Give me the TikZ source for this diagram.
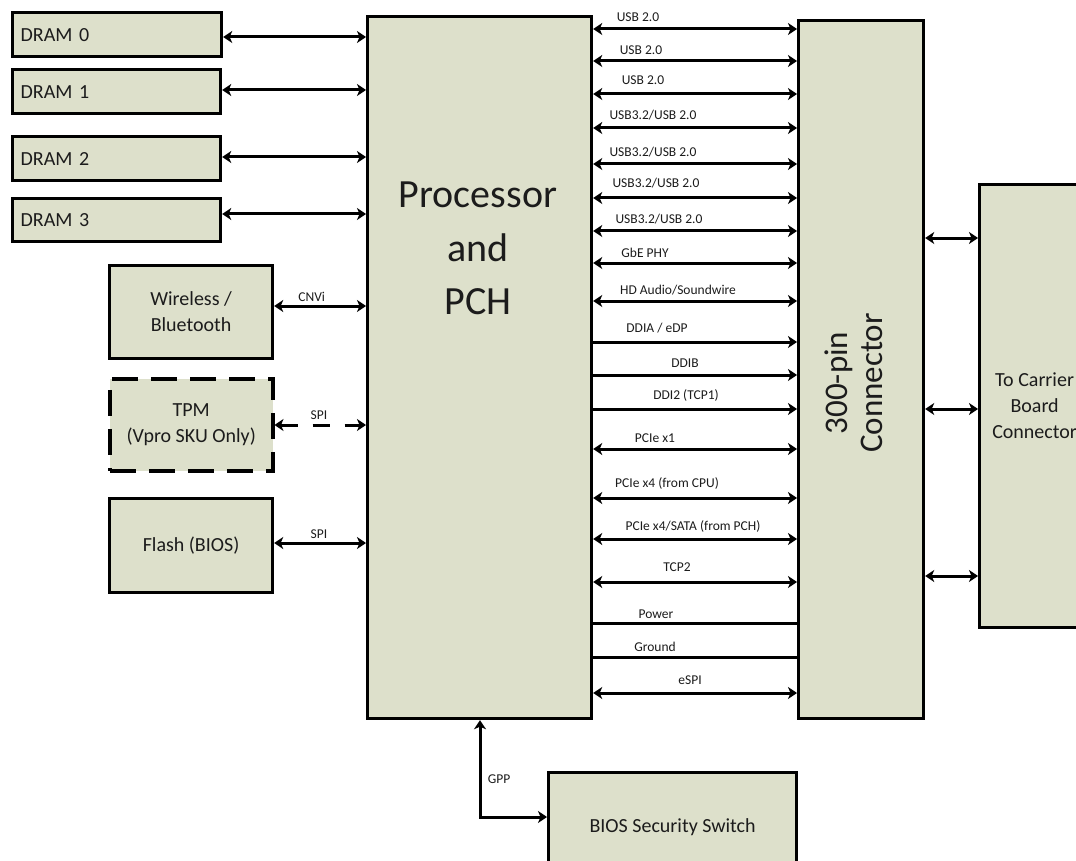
\documentclass[tikz,border=0pt]{standalone}
\usepackage{fontspec}
\setmainfont{Carlito}
\usetikzlibrary{arrows.meta}
\definecolor{boxfill}{RGB}{221,224,203}
\definecolor{txt}{RGB}{28,28,28}
\tikzset{
  box/.style={draw, line width=3.2pt, fill=boxfill, text=txt, font=\fontsize{20}{26}\selectfont, inner sep=0pt, align=center, anchor=north west},
  dashbox/.style={box, dash pattern=on 26pt off 13pt, line width=3.5pt},
  lbl/.style={font=\fontsize{13.5}{16}\selectfont, text=txt, anchor=base, inner sep=0pt},
  conn/.style={line width=3pt},
  >={Stealth[length=9pt,width=12pt,inset=2.5pt]},
}
\begin{document}
\begin{tikzpicture}[x=1pt,y=-1pt]
\clip (0,0) rectangle (1076,861);
\useasboundingbox (0,0) rectangle (1076,861);
\fill[white] (0,0) rectangle (1076,861);

% boxes
\node[box, align=left, text width=193pt, inner xsep=8pt, minimum height=44pt] (d0) at (11,11) {DRAM 0};
\node[box, align=left, text width=192pt, inner xsep=8pt, minimum height=44pt] (d1) at (11,68) {DRAM 1};
\node[box, align=left, text width=192pt, inner xsep=8pt, minimum height=44pt] (d2) at (11,135) {DRAM 2};
\node[box, align=left, text width=192pt, inner xsep=8pt, minimum height=43pt] (d3) at (11,197) {DRAM 3};
\node[box, minimum width=224pt, minimum height=702pt] (proc) at (366,15) {};
\node[font=\fontsize{40}{53.5}\selectfont, text=txt, align=center, inner sep=0pt] (proctext) at (478,248.5) {Processor\\and\\PCH};
\node[box, minimum width=163pt, minimum height=93pt] (wire) at (108,264) {Wireless /\\Bluetooth};
\node[dashbox, minimum width=163pt, minimum height=92pt] (tpm) at (108,377) {TPM\\(Vpro SKU Only)};
\node[box, minimum width=163pt, minimum height=94pt] (flash) at (108,497) {Flash (BIOS)};
\node[box, minimum width=125pt, minimum height=698pt] (conn) at (797,19) {};
\node[font=\fontsize{33}{35}\selectfont, text=txt, align=center, inner sep=0pt, rotate=90] (conntext) at (854,383) {300-pin\\Connector};
\node[box, minimum width=110pt, minimum height=443pt] (car) at (978,183) {To Carrier\\Board\\Connector};
\node[box, minimum width=248pt, minimum height=110pt] (bios) at (547,771) {BIOS Security Switch};

% DRAM links
\draw[conn,<->] (d0.east |- 0,37) -- (proc.west |- 0,37);
\draw[conn,<->] (d1.east |- 0,90) -- (proc.west |- 0,90);
\draw[conn,<->] (d2.east |- 0,157) -- (proc.west |- 0,157);
\draw[conn,<->] (d3.east |- 0,214) -- (proc.west |- 0,214);

% left peripherals
\draw[conn,<->] (wire.east |- 0,306) -- (proc.west |- 0,306);
\node[lbl] (lcnvi) at (311.7,301) {CNVi};
\draw[conn,<->,dash pattern=on 17pt off 15pt] (tpm.east |- 0,425) -- (proc.west |- 0,425);
\node[lbl] (lspi1) at (319,419) {SPI};
\draw[conn,<->] (flash.east |- 0,543) -- (proc.west |- 0,543);
\node[lbl] (lspi2) at (319,538) {SPI};

% buses to connector
\draw[conn,<->] (proc.east |- 0,29) -- (conn.west |- 0,29);
\node[lbl] at (638,22) {USB 2.0};
\draw[conn,<->] (proc.east |- 0,61) -- (conn.west |- 0,61);
\node[lbl] at (641,55) {USB 2.0};
\draw[conn,<->] (proc.east |- 0,94) -- (conn.west |- 0,94);
\node[lbl] at (643,85) {USB 2.0};
\draw[conn,<->] (proc.east |- 0,128) -- (conn.west |- 0,128);
\node[lbl] at (653,120) {USB3.2/USB 2.0};
\draw[conn,<->] (proc.east |- 0,164) -- (conn.west |- 0,164);
\node[lbl] at (653,156.5) {USB3.2/USB 2.0};
\draw[conn,<->] (proc.east |- 0,198) -- (conn.west |- 0,198);
\node[lbl] at (656,188) {USB3.2/USB 2.0};
\draw[conn,<->] (proc.east |- 0,231) -- (conn.west |- 0,231);
\node[lbl] at (659,223) {USB3.2/USB 2.0};
\draw[conn,<->] (proc.east |- 0,263) -- (conn.west |- 0,263);
\node[lbl] at (645,257) {GbE PHY};
\draw[conn,<->] (proc.east |- 0,301) -- (conn.west |- 0,301);
\node[lbl] at (678,294) {HD Audio/Soundwire};
\draw[conn,->] (proc.east |- 0,342) -- (conn.west |- 0,342);
\node[lbl] at (657,332) {DDIA / eDP};
\draw[conn,->] (proc.east |- 0,375) -- (conn.west |- 0,375);
\node[lbl] at (685,367) {DDIB};
\draw[conn,->] (proc.east |- 0,409) -- (conn.west |- 0,409);
\node[lbl] at (686,399) {DDI2 (TCP1)};
\draw[conn,<->] (proc.east |- 0,449) -- (conn.west |- 0,449);
\node[lbl] at (655,442) {PCIe x1};
\draw[conn,<->] (proc.east |- 0,498) -- (conn.west |- 0,498);
\node[lbl] at (667,487) {PCIe x4 (from CPU)};
\draw[conn,<->] (proc.east |- 0,539) -- (conn.west |- 0,539);
\node[lbl] at (693,530) {PCIe x4/SATA (from PCH)};
\draw[conn,<->] (proc.east |- 0,582) -- (conn.west |- 0,582);
\node[lbl] at (677,571) {TCP2};
\draw[conn] (proc.east |- 0,623) -- (conn.west |- 0,623);
\node[lbl] at (656,618) {Power};
\draw[conn] (proc.east |- 0,657) -- (conn.west |- 0,657);
\node[lbl] at (655,651) {Ground};
\draw[conn,<->] (proc.east |- 0,693) -- (conn.west |- 0,693);
\node[lbl] at (690,684) {eSPI};

% connector to carrier
\draw[conn,<->] (conn.east |- 0,238) -- (car.west |- 0,238);
\draw[conn,<->] (conn.east |- 0,409) -- (car.west |- 0,409);
\draw[conn,<->] (conn.east |- 0,576) -- (car.west |- 0,576);

% GPP
\coordinate (gppc) at (480,817);
\draw[conn,<->] (proc.south -| gppc) -- (gppc) -- (bios.west |- gppc);
\node[lbl] (lgpp) at (499,783) {GPP};
\end{tikzpicture}
\end{document}
